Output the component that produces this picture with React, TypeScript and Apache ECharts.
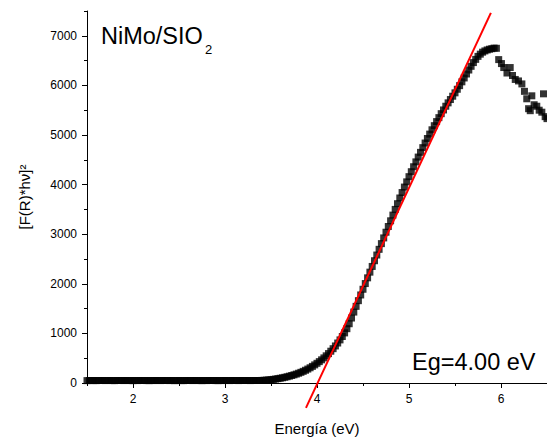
import React, { useEffect, useRef } from "react";
import * as echarts from "echarts";

// Photon energy (eV) of each measured point
const energy = [
  1.5, 1.525, 1.55, 1.575, 1.6, 1.625, 1.65, 1.675, 1.7, 1.725,
  1.75, 1.775, 1.8, 1.825, 1.85, 1.875, 1.9, 1.925, 1.95, 1.975,
  2.0, 2.025, 2.05, 2.075, 2.1, 2.125, 2.15, 2.175, 2.2, 2.225,
  2.25, 2.275, 2.3, 2.325, 2.35, 2.375, 2.4, 2.425, 2.45, 2.475,
  2.5, 2.525, 2.55, 2.575, 2.6, 2.625, 2.65, 2.675, 2.7, 2.725,
  2.75, 2.775, 2.8, 2.825, 2.85, 2.875, 2.9, 2.925, 2.95, 2.975,
  3.0, 3.025, 3.05, 3.075, 3.1, 3.125, 3.15, 3.175, 3.2, 3.225,
  3.25, 3.275, 3.3, 3.325, 3.35,
  3.375, 3.4, 3.425, 3.45, 3.475, 3.5, 3.525, 3.55, 3.575, 3.6,
  3.625, 3.65, 3.675, 3.7, 3.725, 3.75, 3.775, 3.8, 3.825, 3.85,
  3.875, 3.9, 3.925, 3.95, 3.975, 4.0, 4.025, 4.05, 4.075, 4.1,
  4.125, 4.15, 4.175, 4.2, 4.225, 4.25, 4.275, 4.3, 4.325, 4.35,
  4.375, 4.4, 4.425, 4.45, 4.475, 4.5, 4.525, 4.55, 4.575, 4.6,
  4.625, 4.65, 4.675, 4.7, 4.725, 4.75, 4.775, 4.8, 4.825, 4.85,
  4.875, 4.9, 4.925, 4.95, 4.975, 5.0, 5.025, 5.05, 5.075, 5.1,
  5.125, 5.15, 5.175, 5.2, 5.225, 5.25, 5.275, 5.3, 5.325, 5.35,
  5.375, 5.4, 5.425, 5.45, 5.475, 5.5, 5.525, 5.55, 5.575, 5.6,
  5.625, 5.65, 5.675, 5.7, 5.725, 5.75, 5.775, 5.8, 5.825, 5.85,
  5.875, 5.9, 5.925, 5.95, 5.975, 6.005, 6.03, 6.065, 6.1, 6.125,
  6.155, 6.19, 6.227, 6.255, 6.28, 6.3, 6.318, 6.335, 6.36, 6.389,
  6.415, 6.444, 6.462, 6.48, 6.5,
];

// [F(R)*hv]^2 value of each point
const tauc = [
  48, 49, 50, 49, 48, 50, 51, 50, 49, 50,
  50, 49, 48, 50, 51, 50, 49, 50, 50, 49,
  48, 50, 49, 50, 51, 50, 49, 48, 50, 49,
  50, 50, 49, 50, 51, 50, 49, 50, 48, 49,
  50, 49, 48, 50, 51, 50, 49, 50, 50, 49,
  48, 50, 49, 50, 51, 50, 49, 48, 50, 49,
  50, 50, 49, 50, 51, 50, 49, 50, 50, 51,
  50, 49, 50, 51, 50,
  50, 52, 55, 58, 62, 67, 73, 80, 88, 96,
  105, 115, 126, 138, 151, 165, 180, 197, 215, 235,
  257, 281, 307, 335, 365, 397, 431, 467, 506, 548,
  593, 641, 692, 747, 806, 869, 937, 1010, 1095, 1195,
  1310, 1430, 1545, 1660, 1775, 1890, 2005, 2120, 2235, 2350,
  2465, 2580, 2695, 2810, 2925, 3040, 3155, 3270, 3385, 3500,
  3615, 3730, 3840, 3950, 4055, 4160, 4260, 4360, 4458, 4555,
  4650, 4745, 4838, 4930, 5018, 5105, 5188, 5270, 5350, 5430,
  5505, 5580, 5648, 5715, 5782, 5850, 5922, 5995, 6072, 6150,
  6230, 6310, 6385, 6460, 6525, 6585, 6630, 6670, 6695, 6715,
  6730, 6740, 6752, 6748, 6520, 6440, 6360, 6250, 6360, 6200,
  6120, 6090, 6030, 5880, 5730, 5530, 5490, 5790, 5610, 5580,
  5500, 5460, 5830, 5370, 5330,
];

// Linear (Tauc) fit end points
const fitEnergy = [3.88, 5.89];
const fitTauc = [-503, 7461];

const xTickValues = [2, 3, 4, 5, 6];
const yTickValues = [0, 1000, 2000, 3000, 4000, 5000, 6000, 7000];

const sampleLabel = "NiMo/SIO";
const sampleSub = "2";
const gapLabel = "Eg=4.00 eV";
const xName = "Energía (eV)";
const yName = "[F(R)*hν]²";

export default function App() {
  const ref = useRef<HTMLDivElement>(null);

  useEffect(() => {
    if (!ref.current) return;
    const chart = echarts.init(ref.current, null, { renderer: "svg" });
    const font = "'Liberation Sans', Arial, sans-serif";
    const scatterData = energy.map((e, i) => [e, tauc[i]]);
    const fitData = fitEnergy.map((e, i) => [e, fitTauc[i]]);

    chart.setOption({
      animation: false,
      backgroundColor: "#ffffff",
      grid: { left: 87, right: 0, top: 11, bottom: 53 },
      xAxis: [
        {
          type: "value",
          min: 1.5,
          max: 6.5,
          position: "bottom",
          axisLine: { show: true, lineStyle: { color: "#000", width: 1 } },
          axisTick: { show: true, customValues: xTickValues, length: 5, lineStyle: { color: "#000" } },
          axisLabel: {
            customValues: xTickValues,
            color: "#000",
            fontSize: 12,
            fontFamily: font,
            margin: 10,
            formatter: (v: number) => String(v),
          },
          splitLine: { show: false },
          name: xName,
          nameLocation: "middle",
          nameGap: 38,
          nameTextStyle: { color: "#000", fontSize: 15, fontFamily: font },
        },
        {
          type: "value",
          min: 1.5,
          max: 6.5,
          interval: 0.5,
          position: "bottom",
          axisLine: { show: false },
          axisTick: { show: true, length: 3, lineStyle: { color: "#000" } },
          axisLabel: { show: false },
          splitLine: { show: false },
        },
      ],
      yAxis: [
        {
          type: "value",
          min: 0,
          max: 7500,
          position: "left",
          axisLine: { show: true, lineStyle: { color: "#000", width: 1 } },
          axisTick: { show: true, customValues: yTickValues, length: 5, lineStyle: { color: "#000" } },
          axisLabel: {
            customValues: yTickValues,
            color: "#000",
            fontSize: 12,
            fontFamily: font,
            margin: 10,
            formatter: (v: number) => String(v),
          },
          splitLine: { show: false },
          name: yName,
          nameLocation: "middle",
          nameRotate: 90,
          nameGap: 55,
          nameTextStyle: { color: "#000", fontSize: 15, fontFamily: font },
        },
        {
          type: "value",
          min: 0,
          max: 7500,
          interval: 500,
          position: "left",
          axisLine: { show: false },
          axisTick: { show: true, length: 3, lineStyle: { color: "#000" } },
          axisLabel: { show: false },
          splitLine: { show: false },
        },
      ],
      series: [
        {
          type: "scatter",
          xAxisIndex: 0,
          yAxisIndex: 0,
          data: scatterData,
          symbol: "rect",
          symbolSize: 7,
          itemStyle: { color: "#000" },
          z: 2,
        },
        {
          type: "line",
          xAxisIndex: 0,
          yAxisIndex: 0,
          data: fitData,
          showSymbol: false,
          symbol: "none",
          clip: false,
          lineStyle: { color: "#ff0000", width: 2 },
          z: 3,
        },
      ],
      graphic: [
        {
          type: "text",
          left: 101,
          top: 24,
          style: { text: sampleLabel, fill: "#000", font: `23.5px ${font}` },
        },
        {
          type: "text",
          left: 205,
          top: 43,
          style: { text: sampleSub, fill: "#000", font: `13px ${font}` },
        },
        {
          type: "text",
          left: 412,
          top: 350,
          style: { text: gapLabel, fill: "#000", font: `23.5px ${font}` },
        },
      ],
    });

    return () => chart.dispose();
  }, []);

  return (
    <div
      ref={ref}
      style={{ position: "absolute", left: 0, top: 0, width: 547, height: 441 }}
    />
  );
}
